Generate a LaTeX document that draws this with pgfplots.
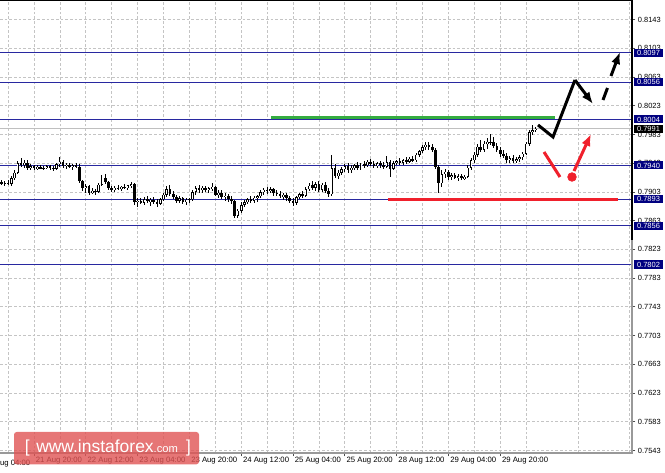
\documentclass[border=0pt]{standalone}
\usepackage{fontspec}
\setmainfont{Liberation Sans}
\usepackage{pgfplots}
\pgfplotsset{compat=1.18}
\usepackage{pgfplotstable}
\usetikzlibrary{arrows.meta}

\definecolor{lvl}{RGB}{40,40,160}
\definecolor{lvlbox}{RGB}{0,0,128}
\definecolor{gridc}{RGB}{196,196,196}
\definecolor{mtred}{RGB}{240,32,44}
\definecolor{mtgreen}{RGB}{52,172,64}
\definecolor{wmred}{RGB}{224,84,84}
\newcommand\axfont{\fontsize{5.6}{6}\selectfont}
\newcommand\datefont{\fontsize{5.8}{6}\selectfont}

% H1 bars, i = 0 is 21 Aug 20:00
\pgfplotstableread{
i o h l c
-10 0.7917 0.7920 0.7913 0.7915
-9 0.7915 0.7918 0.7912 0.7916
-8 0.7916 0.7919 0.7913 0.7914
-7 0.7914 0.7925 0.7912 0.7922
-6 0.7922 0.7934 0.7920 0.7930
-5 0.7930 0.7946 0.7928 0.7943
-4 0.7943 0.7950 0.7938 0.7941
-3 0.7941 0.7947 0.7936 0.7944
-2 0.7944 0.7948 0.7934 0.7937
-1 0.7937 0.7942 0.7933 0.7939
0 0.7939 0.7941 0.7934 0.7936
1 0.7936 0.7940 0.7933 0.7938
2 0.7938 0.7940 0.7935 0.7936
3 0.7936 0.7939 0.7933 0.7937
4 0.7937 0.7941 0.7935 0.7939
5 0.7939 0.7940 0.7934 0.7937
6 0.7937 0.7939 0.7932 0.7935
7 0.7935 0.7944 0.7933 0.7942
8 0.7942 0.7951 0.7938 0.7945
9 0.7945 0.7947 0.7936 0.7939
10 0.7939 0.7943 0.7935 0.7941
11 0.7941 0.7944 0.7936 0.7938
12 0.7938 0.7942 0.7934 0.7940
13 0.7940 0.7944 0.7936 0.7938
14 0.7938 0.7942 0.7916 0.7918
15 0.7918 0.7920 0.7905 0.7908
16 0.7908 0.7914 0.7902 0.7911
17 0.7911 0.7913 0.7899 0.7902
18 0.7902 0.7908 0.7900 0.7905
19 0.7905 0.7907 0.7899 0.7903
20 0.7903 0.7915 0.7901 0.7913
21 0.7913 0.7927 0.7911 0.7923
22 0.7923 0.7928 0.7914 0.7917
23 0.7917 0.7919 0.7906 0.7909
24 0.7909 0.7912 0.7903 0.7906
25 0.7906 0.7911 0.7903 0.7909
26 0.7909 0.7913 0.7905 0.7907
27 0.7907 0.7911 0.7904 0.7910
28 0.7910 0.7914 0.7907 0.7909
29 0.7909 0.7913 0.7906 0.7912
30 0.7912 0.7917 0.7909 0.7914
31 0.7914 0.7916 0.7885 0.7889
32 0.7889 0.7894 0.7882 0.7891
33 0.7891 0.7895 0.7886 0.7888
34 0.7888 0.7896 0.7885 0.7893
35 0.7893 0.7897 0.7887 0.7890
36 0.7890 0.7894 0.7884 0.7892
37 0.7892 0.7896 0.7886 0.7889
38 0.7889 0.7893 0.7882 0.7887
39 0.7887 0.7895 0.7885 0.7893
40 0.7893 0.7902 0.7890 0.7899
41 0.7899 0.7912 0.7896 0.7907
42 0.7907 0.7913 0.7897 0.7900
43 0.7900 0.7905 0.7893 0.7896
44 0.7896 0.7899 0.7888 0.7891
45 0.7891 0.7897 0.7887 0.7894
46 0.7894 0.7896 0.7886 0.7889
47 0.7889 0.7894 0.7885 0.7892
48 0.7892 0.7895 0.7887 0.7893
49 0.7893 0.7905 0.7891 0.7903
50 0.7903 0.7911 0.7899 0.7908
51 0.7908 0.7912 0.7902 0.7905
52 0.7905 0.7911 0.7901 0.7909
53 0.7909 0.7912 0.7903 0.7906
54 0.7906 0.7910 0.7901 0.7908
55 0.7908 0.7916 0.7904 0.7910
56 0.7910 0.7912 0.7897 0.7899
57 0.7899 0.7905 0.7894 0.7902
58 0.7902 0.7906 0.7893 0.7896
59 0.7896 0.7901 0.7891 0.7898
60 0.7898 0.7900 0.7889 0.7893
61 0.7893 0.7897 0.7886 0.7890
62 0.7890 0.7892 0.7867 0.7870
63 0.7870 0.7880 0.7867 0.7877
64 0.7877 0.7889 0.7874 0.7885
65 0.7885 0.7892 0.7882 0.7889
66 0.7889 0.7895 0.7886 0.7893
67 0.7893 0.7897 0.7887 0.7891
68 0.7891 0.7897 0.7888 0.7895
69 0.7895 0.7899 0.7889 0.7897
70 0.7897 0.7906 0.7894 0.7903
71 0.7903 0.7909 0.7899 0.7906
72 0.7906 0.7910 0.7900 0.7904
73 0.7904 0.7910 0.7901 0.7907
74 0.7907 0.7909 0.7898 0.7902
75 0.7902 0.7906 0.7897 0.7900
76 0.7900 0.7904 0.7894 0.7897
77 0.7897 0.7902 0.7892 0.7899
78 0.7899 0.7901 0.7891 0.7894
79 0.7894 0.7898 0.7888 0.7891
80 0.7891 0.7895 0.7884 0.7888
81 0.7888 0.7898 0.7885 0.7896
82 0.7896 0.7902 0.7893 0.7900
83 0.7900 0.7904 0.7895 0.7898
84 0.7898 0.7910 0.7896 0.7907
85 0.7907 0.7915 0.7904 0.7912
86 0.7912 0.7918 0.7906 0.7909
87 0.7909 0.7917 0.7905 0.7914
88 0.7914 0.7918 0.7903 0.7906
89 0.7906 0.7916 0.7903 0.7913
90 0.7913 0.7917 0.7901 0.7904
91 0.7904 0.7908 0.7896 0.7900
92 0.7900 0.7954 0.7898 0.7936
93 0.7936 0.7942 0.7922 0.7925
94 0.7925 0.7934 0.7921 0.7930
95 0.7930 0.7938 0.7926 0.7935
96 0.7935 0.7942 0.7931 0.7939
97 0.7939 0.7943 0.7930 0.7933
98 0.7933 0.7940 0.7930 0.7937
99 0.7937 0.7942 0.7933 0.7940
100 0.7940 0.7944 0.7934 0.7936
101 0.7936 0.7944 0.7933 0.7942
102 0.7942 0.7946 0.7937 0.7940
103 0.7940 0.7948 0.7938 0.7945
104 0.7945 0.7949 0.7939 0.7942
105 0.7942 0.7946 0.7936 0.7939
106 0.7939 0.7945 0.7936 0.7943
107 0.7943 0.7946 0.7937 0.7940
108 0.7940 0.7944 0.7935 0.7938
109 0.7938 0.7953 0.7936 0.7944
110 0.7944 0.7947 0.7924 0.7935
111 0.7935 0.7946 0.7933 0.7943
112 0.7943 0.7948 0.7940 0.7946
113 0.7946 0.7950 0.7941 0.7944
114 0.7944 0.7949 0.7940 0.7947
115 0.7947 0.7951 0.7942 0.7945
116 0.7945 0.7952 0.7943 0.7949
117 0.7949 0.7953 0.7944 0.7947
118 0.7947 0.7957 0.7945 0.7955
119 0.7955 0.7962 0.7952 0.7960
120 0.7960 0.7968 0.7957 0.7965
121 0.7965 0.7972 0.7962 0.7969
122 0.7969 0.7972 0.7962 0.7966
123 0.7966 0.7970 0.7958 0.7962
124 0.7962 0.7964 0.7935 0.7938
125 0.7938 0.7940 0.7901 0.7915
126 0.7915 0.7933 0.7910 0.7928
127 0.7928 0.7935 0.7922 0.7931
128 0.7931 0.7934 0.7920 0.7924
129 0.7924 0.7930 0.7920 0.7926
130 0.7926 0.7929 0.7921 0.7923
131 0.7923 0.7928 0.7919 0.7925
132 0.7925 0.7928 0.7920 0.7922
133 0.7922 0.7927 0.7919 0.7924
134 0.7924 0.7940 0.7922 0.7937
135 0.7937 0.7950 0.7934 0.7947
136 0.7947 0.7958 0.7944 0.7955
137 0.7955 0.7970 0.7952 0.7966
138 0.7966 0.7975 0.7958 0.7962
139 0.7962 0.7974 0.7959 0.7970
140 0.7970 0.7978 0.7963 0.7973
141 0.7973 0.7983 0.7968 0.7972
142 0.7972 0.7980 0.7964 0.7967
143 0.7967 0.7971 0.7958 0.7961
144 0.7961 0.7965 0.7952 0.7956
145 0.7956 0.7962 0.7950 0.7953
146 0.7953 0.7957 0.7944 0.7947
147 0.7947 0.7953 0.7943 0.7950
148 0.7950 0.7954 0.7944 0.7946
149 0.7946 0.7952 0.7943 0.7949
150 0.7949 0.7954 0.7945 0.7951
151 0.7951 0.7959 0.7948 0.7956
152 0.7956 0.7973 0.7954 0.7970
153 0.7970 0.7990 0.7967 0.7986
154 0.7986 0.7996 0.7982 0.7989
155 0.7989 0.7994 0.7987 0.7991
}\candles

\begin{document}
\begin{tikzpicture}
\useasboundingbox (0,-15pt) rectangle (498.75pt,339.75pt);
\begin{axis}[
  at={(0,0)}, anchor=south west,
  scale only axis, width=474pt, height=339.75pt,
  xmin=-10.502, xmax=184.71,
  ymin=0.75396, ymax=0.81702,
  axis line style={draw=none},
  xtick={0,16,...,144},
  xticklabels={21 Aug 20:00,22 Aug 12:00,23 Aug 04:00,23 Aug 20:00,24 Aug 12:00,25 Aug 04:00,25 Aug 20:00,28 Aug 12:00,29 Aug 04:00,29 Aug 20:00},
  minor xtick={-8,8,...,184},
  ytick={0.7543,0.7583,0.7623,0.7663,0.7703,0.7743,0.7783,0.7823,0.7863,0.7903,0.7943,0.7983,0.8023,0.8063,0.8103,0.8143},
  xtick pos=left, ytick pos=right,
  yticklabel pos=right,
  scaled y ticks=false,
  tick align=outside,
  major tick length=2.6pt, minor tick length=0pt,
  tick style={black!70, line width=0.6pt},
  xmajorgrids, xminorgrids, ymajorgrids,
  grid style={gridc, dash pattern=on 2pt off 1.5pt, line width=0.6pt},
  yticklabel style={/pgf/number format/.cd, fixed, fixed zerofill, precision=4, assume math mode=true, /tikz/.cd,
    font=\axfont, anchor=west, inner sep=0pt, xshift=1.6pt},
  xticklabel style={font=\datefont, anchor=north west, inner sep=0pt, xshift=1.2pt, yshift=-0.6pt},
]
% support and resistance levels
\pgfplotsinvokeforeach{0.8097,0.8056,0.8004,0.7940,0.7893,0.7856,0.7802}{
  \addplot[lvl, line width=0.75pt] coordinates {(-10.502,#1) (184.71,#1)};
}
% bid line
\addplot[black!25, line width=0.75pt] coordinates {(-10.502,0.7991) (184.71,0.7991)};
\addplot[mtgreen, line width=2.25pt] coordinates {(73.2,0.8007) (160.9,0.8007)};
\addplot[mtred, line width=2.25pt] coordinates {(109.3,0.7893) (180.4,0.7893)};

% candles: wicks, bodies, hollow bullish bodies
\addplot[only marks, mark=-, mark size=0pt,
  error bars/.cd, y dir=both, y explicit, error mark=none,
  error bar style={black, line width=0.75pt}]
  table[x=i, y expr={(\thisrow{h}+\thisrow{l})/2}, y error expr={(\thisrow{h}-\thisrow{l})/2}] {\candles};
\addplot[only marks, mark=-, mark size=0pt,
  error bars/.cd, y dir=both, y explicit, error mark=none,
  error bar style={black, line width=1.95pt}]
  table[x=i, y expr={(\thisrow{o}+\thisrow{c})/2}, y error expr={max(abs(\thisrow{c}-\thisrow{o})/2,0.00004)}] {\candles};
\addplot[only marks, mark=-, mark size=0pt,
  error bars/.cd, y dir=both, y explicit, error mark=none,
  error bar style={white, line width=0.7pt}]
  table[x=i, y expr={(\thisrow{o}+\thisrow{c})/2}, y error expr={max((\thisrow{c}-\thisrow{o})/2-0.00008,0)}] {\candles};

% forecast path
\addplot[black, line width=2.25pt, line join=miter] coordinates {(155.68,0.79962) (160.31,0.79795) (167.10,0.80588)};
\addplot[black, line width=2.25pt, -{Latex[length=9pt,width=7pt]}] coordinates {(167.10,0.80588) (172.67,0.80254)};
\addplot[black, line width=2.25pt] coordinates {(175.75,0.80310) (177.14,0.80477)};
\addplot[black, line width=2.25pt, -{Latex[length=9pt,width=7pt]}] coordinates {(178.22,0.80644) (181.0,0.80978)};
\addplot[mtred, line width=2.25pt] coordinates {(157.53,0.79586) (162.47,0.79238)};
\addplot[mtred, only marks, mark=*, mark size=3.3pt] coordinates {(166.18,0.79238)};
\addplot[mtred, line width=2.25pt, -{Latex[length=9pt,width=7pt]}] coordinates {(166.80,0.79321) (172.05,0.79837)};

\coordinate (L1) at (axis cs:184.71,0.8097);
\coordinate (L2) at (axis cs:184.71,0.8056);
\coordinate (L3) at (axis cs:184.71,0.8004);
\coordinate (L4) at (axis cs:184.71,0.7940);
\coordinate (L5) at (axis cs:184.71,0.7893);
\coordinate (L6) at (axis cs:184.71,0.7856);
\coordinate (L7) at (axis cs:184.71,0.7802);
\coordinate (B) at (axis cs:184.71,0.7991);
\end{axis}

% frame of the chart window
\draw[black, line width=1.5pt] (474pt,339.75pt) -- (474pt,159.75pt);
\draw[black!40, line width=1pt] (474pt,159.75pt) -- (474pt,0pt);
\draw[black!40, line width=1pt] (0pt,0pt) -- (474.5pt,0pt);
\draw[black, line width=1pt] (0pt,339.4pt) -- (474pt,339.4pt);

% level labels
\tikzset{lbox/.style={fill=lvlbox, text=white, anchor=west, inner xsep=2.3pt, inner ysep=1pt,
  text height=4.1pt, text depth=0pt, font=\axfont}}
\node[lbox] at ([xshift=1.3pt]L1) {0.8097};
\node[lbox] at ([xshift=1.3pt]L2) {0.8056};
\node[lbox] at ([xshift=1.3pt]L3) {0.8004};
\node[lbox] at ([xshift=1.3pt]L4) {0.7940};
\node[lbox] at ([xshift=1.3pt]L5) {0.7893};
\node[lbox] at ([xshift=1.3pt]L6) {0.7856};
\node[lbox] at ([xshift=1.3pt]L7) {0.7802};
\node[lbox, fill=black] at ([xshift=1.3pt]B) {0.7991};

% first date label, cut by the window edge
\node[font=\datefont, anchor=north west, inner sep=0pt] at (-12.1pt,-4.9pt) {21 Aug 04:00};

% watermark
\fill[wmred, opacity=0.8, rounded corners=2pt] (10.5pt,-8.5pt) rectangle (149.25pt,15.75pt);
\node[anchor=base west, inner sep=0pt, text=white, font=\fontsize{13}{13}\selectfont] at (18.5pt,0pt) {[};
\node[anchor=base west, inner sep=0pt, text=white] at (27pt,0pt) {\fontsize{13.1}{13}\selectfont www.instaforex\fontsize{8.4}{9}\selectfont.com};
\node[anchor=base west, inner sep=0pt, text=white, font=\fontsize{13}{13}\selectfont] at (139.3pt,0pt) {]};
\end{tikzpicture}
\end{document}
